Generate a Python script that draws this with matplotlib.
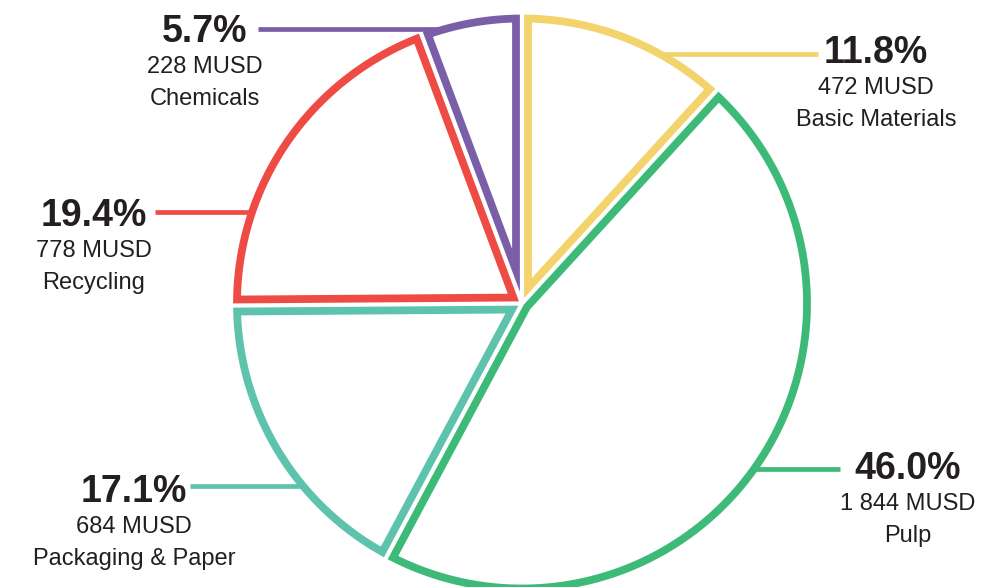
import matplotlib
matplotlib.use('Agg')
import matplotlib.pyplot as plt
import numpy as np
from matplotlib.patches import Polygon

plt.rcParams['font.family'] = ['Liberation Sans', 'DejaVu Sans']

# data
categories = ['Basic Materials', 'Pulp', 'Packaging & Paper', 'Recycling', 'Chemicals']
musd = [472, 1844, 684, 778, 228]
shares = [11.8, 46.0, 17.1, 19.4, 5.7]
colors = ['#F3D36B', '#3DBA78', '#5EC3AC', '#EF4B45', '#7A5FA8']

# label layout (pixel coords, y down)
label_x = [876, 908, 134, 94, 205]
label_y = [53, 469, 492, 216, 32]
leader_y = [54, 469, 486, 212, 29]
leader_end = [818, 840, 190, 155, 258]
side = [1, 1, -1, -1, -1]

W, H = 1004, 587
cx, cy, R = 522, 303.5, 285
pad = 6  # half the gap between slices

fig = plt.figure(figsize=(W / 100, H / 100), dpi=100)
ax = fig.add_axes([0, 0, 1, 1])
ax.set_xlim(0, W)
ax.set_ylim(H, 0)
ax.axis('off')

fracs = np.array(musd) / np.sum(musd)
start = np.pi / 2
for i, f in enumerate(fracs):
    sweep = 2 * np.pi * f
    a1, a2 = start, start - sweep
    mid = (a1 + a2) / 2
    d = pad / np.sin(sweep / 2)
    apex = (cx + d * np.cos(mid), cy - d * np.sin(mid))
    off = np.arcsin(pad / R)
    t = np.linspace(a1 - off, a2 + off, 200)
    pts = [apex] + list(zip(cx + R * np.cos(t), cy - R * np.sin(t)))
    ax.add_patch(Polygon(pts, closed=True, facecolor='white', edgecolor=colors[i],
                         linewidth=5.6, joinstyle='miter', zorder=2))
    start = a2

for i in range(len(categories)):
    ly = leader_y[i]
    xa = cx + side[i] * np.sqrt(R ** 2 - (ly - cy) ** 2)
    ax.plot([xa, leader_end[i]], [ly, ly], color=colors[i], lw=3.4,
            solid_capstyle='butt', zorder=1)
    ax.text(label_x[i], label_y[i], f'{shares[i]:.1f}%', ha='center', va='center',
            fontsize=27, fontweight='bold', color='#231F20')
    ax.text(label_x[i], label_y[i] + 35, f'{musd[i]:,} MUSD'.replace(',', ' '),
            ha='center', va='center', fontsize=17, color='#231F20')
    ax.text(label_x[i], label_y[i] + 67, categories[i], ha='center', va='center',
            fontsize=17, color='#231F20')

fig.savefig('out.png', dpi=100)
